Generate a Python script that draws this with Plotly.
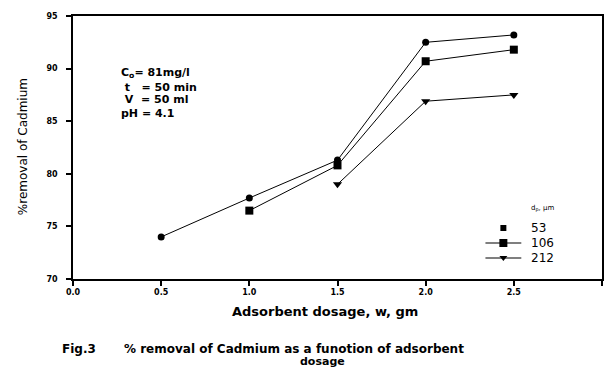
import plotly.graph_objects as go

# ---- data ----
dosage_53 = [0.5, 1.0, 1.5, 2.0, 2.5]
removal_53 = [74.0, 77.7, 81.3, 92.5, 93.2]
dosage_106 = [1.0, 1.5, 2.0, 2.5]
removal_106 = [76.5, 80.8, 90.7, 91.8]
dosage_212 = [1.5, 2.0, 2.5]
removal_212 = [79.0, 86.9, 87.5]
series_names = ["53", "106", "212"]
x_ticks = [0.0, 0.5, 1.0, 1.5, 2.0, 2.5, 3.0]
y_ticks = [70, 75, 80, 85, 90, 95]

W, H = 606, 369
L, R, T, B = 73, 2, 16, 90
PW = W - L - R
PH = H - T - B


def px(xp):
    return (xp - L) / PW


def py(yp):
    return (H - B - yp) / PH


fig = go.Figure()
line = dict(color="black", width=1)
fig.add_trace(go.Scatter(x=dosage_53, y=removal_53, mode="lines+markers", line=line,
                         marker=dict(symbol="circle", size=7, color="black"),
                         name=series_names[0], showlegend=False))
fig.add_trace(go.Scatter(x=dosage_106, y=removal_106, mode="lines+markers", line=line,
                         marker=dict(symbol="square", size=8, color="black"),
                         name=series_names[1], showlegend=False))
fig.add_trace(go.Scatter(x=dosage_212, y=removal_212, mode="lines+markers", line=line,
                         marker=dict(symbol="triangle-down", size=8, color="black"),
                         name=series_names[2], showlegend=False))

tickfont = dict(family="DejaVu Sans", size=8, color="black", weight="bold")
fig.update_xaxes(range=[0, 3], tickvals=x_ticks, ticktext=[f"{v:.1f}" for v in x_ticks],
                 ticks="outside", ticklen=5, tickwidth=1.5, tickcolor="black",
                 showline=True, linecolor="black", linewidth=1.5, mirror=True,
                 showgrid=False, zeroline=False, tickfont=tickfont)
fig.update_yaxes(range=[70, 95], tickvals=y_ticks, ticks="outside", ticklen=5,
                 tickwidth=1.5, tickcolor="black", ticklabelstandoff=7,
                 showline=True, linecolor="black", linewidth=1.5, mirror=True,
                 showgrid=False, zeroline=False, tickfont=tickfont)


def txt(text, x, y, size, xanchor="left", bold=True, angle=0):
    f = dict(family="DejaVu Sans", size=size, color="black")
    if bold:
        f["weight"] = "bold"
    return dict(text=text, x=px(x), y=py(y), xref="paper", yref="paper",
                showarrow=False, xanchor=xanchor, yanchor="middle",
                textangle=angle, font=f)


ann = []
ann.append(txt("%removal of Cadmium", 23, 147, 12, "center", bold=False, angle=-90))
ann.append(txt("Adsorbent dosage, w, gm", 326, 311, 13, "center"))
ann.append(txt("Fig.3", 60, 349, 12))
ann.append(txt("% removal of Cadmium as a funotion of adsorbent", 122, 349, 12))
ann.append(txt("dosage", 323, 361, 11, "center"))
cond_lines = ["C<sub>o</sub>= 81mg/l", " t   = 50 min", " V  = 50 ml", "pH = 4.1"]
for s, yy in zip(cond_lines, [73, 87, 100, 113]):
    ann.append(txt(s, 119, yy, 11))
ann.append(txt("d<sub>p</sub>, μm", 531, 209, 7, bold=False))
leg_y = [228, 243, 258]
for name, yy in zip(series_names, leg_y):
    ann.append(txt(name, 531, yy, 12, bold=False))

shapes = []
shapes.append(dict(type="rect", xref="paper", yref="paper",
                   x0=px(502), x1=px(508), y0=py(225), y1=py(231),
                   fillcolor="black", line=dict(width=0)))
for yy in leg_y[1:]:
    shapes.append(dict(type="line", xref="paper", yref="paper",
                       x0=px(487), x1=px(523), y0=py(yy), y1=py(yy),
                       line=dict(color="black", width=1.2)))
shapes.append(dict(type="rect", xref="paper", yref="paper",
                   x0=px(501), x1=px(509), y0=py(239), y1=py(247),
                   fillcolor="black", line=dict(width=0)))
x0, x1, xc = px(501), px(509), px(505)
y_top, y_bot = py(256), py(261)
shapes.append(dict(type="path", xref="paper", yref="paper",
                   path=f"M {x0},{y_top} L {x1},{y_top} L {xc},{y_bot} Z",
                   fillcolor="black", line=dict(width=0)))

fig.update_layout(width=W, height=H, autosize=False,
                  margin=dict(l=L, r=R, t=T, b=B),
                  paper_bgcolor="white", plot_bgcolor="white",
                  annotations=ann, shapes=shapes, showlegend=False)

fig.write_html("out.html", config={"displayModeBar": False},
               post_script="document.body.style.margin='0px';document.body.style.overflow='hidden';")
